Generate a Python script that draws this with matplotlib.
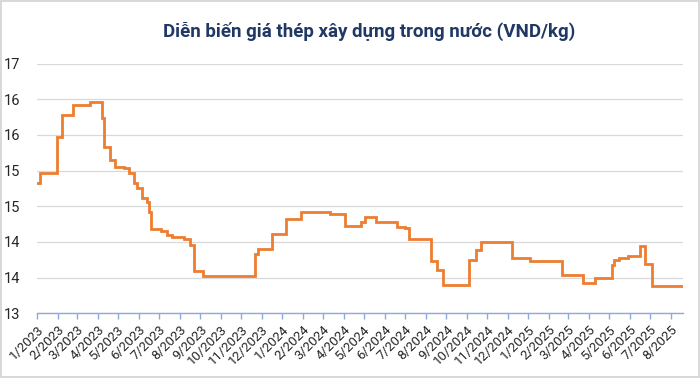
import matplotlib
matplotlib.use("Agg")
import matplotlib.pyplot as plt
import numpy as np
from datetime import date

title = "Diễn biến giá thép xây dựng trong nước (VND/kg)"

change_dates = [
    "2023-01-01", "2023-01-06", "2023-01-30", "2023-02-07", "2023-02-23", "2023-03-21",
    "2023-04-07", "2023-04-11", "2023-04-19", "2023-04-27", "2023-05-11", "2023-05-18",
    "2023-05-25", "2023-05-29", "2023-06-06", "2023-06-13", "2023-06-16", "2023-06-20",
    "2023-07-04", "2023-07-13", "2023-07-21", "2023-08-08", "2023-08-17", "2023-08-23",
    "2023-09-05", "2023-11-21", "2023-11-26", "2023-12-16", "2024-01-06", "2024-01-28",
    "2024-03-12", "2024-04-03", "2024-04-27", "2024-05-03", "2024-05-20", "2024-06-19",
    "2024-07-01", "2024-07-07", "2024-08-09", "2024-08-18", "2024-08-27", "2024-10-04",
    "2024-10-15", "2024-10-23", "2024-12-07", "2025-01-03", "2025-02-20", "2025-03-23",
    "2025-04-10", "2025-05-06", "2025-05-09", "2025-05-16", "2025-05-29", "2025-06-16",
    "2025-06-24", "2025-07-04", "2025-08-19",
]
prices = [
    15.08, 15.25, 15.83, 16.18, 16.33, 16.39,
    16.13, 15.67, 15.45, 15.35, 15.32, 15.24,
    15.09, 15.01, 14.85, 14.79, 14.63, 14.35,
    14.32, 14.26, 14.22, 14.19, 14.10, 13.68,
    13.60, 13.95, 14.03, 14.27, 14.51, 14.63,
    14.59, 14.40, 14.47, 14.54, 14.46, 14.39,
    14.36, 14.19, 13.84, 13.70, 13.45, 13.86,
    14.01, 14.14, 13.89, 13.84, 13.62, 13.49,
    13.57, 13.77, 13.85, 13.88, 13.92, 14.08,
    13.79, 13.44, 13.44,
]

month_ticks = [
    "2023-01-01", "2023-02-01", "2023-03-01", "2023-04-01", "2023-05-01", "2023-06-01",
    "2023-07-01", "2023-08-01", "2023-09-01", "2023-10-01", "2023-11-01", "2023-12-01",
    "2024-01-01", "2024-02-01", "2024-03-01", "2024-04-01", "2024-05-01", "2024-06-01",
    "2024-07-01", "2024-08-01", "2024-09-01", "2024-10-01", "2024-11-01", "2024-12-01",
    "2025-01-01", "2025-02-01", "2025-03-01", "2025-04-01", "2025-05-01", "2025-06-01",
    "2025-07-01", "2025-08-01",
]
month_labels = [
    "1/2023", "2/2023", "3/2023", "4/2023", "5/2023", "6/2023", "7/2023", "8/2023",
    "9/2023", "10/2023", "11/2023", "12/2023", "1/2024", "2/2024", "3/2024", "4/2024",
    "5/2024", "6/2024", "7/2024", "8/2024", "9/2024", "10/2024", "11/2024", "12/2024",
    "1/2025", "2/2025", "3/2025", "4/2025", "5/2025", "6/2025", "7/2025", "8/2025",
]

y_min, y_max = 13, 17
y_tick_values = [13 + k * 4 / 7 for k in range(8)]
y_tick_labels = ["13", "14", "14", "15", "15", "16", "16", "17"]

plt.rcParams['font.family'] = ['Roboto', 'DejaVu Sans']

fig = plt.figure(figsize=(7.0, 3.78), dpi=100)
fig.patch.set_facecolor("white")
fig.patch.set_edgecolor("#D9D9D9")
fig.patch.set_linewidth(1.5)

ax = fig.add_axes([0.0529, 0.171, 0.9228, 0.661])

xd = [date.fromisoformat(d) for d in change_dates]
ax.plot(xd, prices, drawstyle="steps-post", color="#ED7D31", linewidth=2.0, solid_joinstyle="miter")

ax.set_ylim(y_min, y_max)
ax.set_xlim(date(2023, 1, 1), date(2025, 8, 19))
ax.set_yticks(y_tick_values)
ax.set_yticklabels(y_tick_labels)
ax.set_xticks([date.fromisoformat(d) for d in month_ticks])
ax.set_xticklabels(month_labels, rotation=45, ha="right", rotation_mode="anchor")

ax.grid(axis="y", color="#D9D9D9", linewidth=0.9)
ax.set_axisbelow(True)
for s in ["left", "right", "top"]:
    ax.spines[s].set_visible(False)
ax.spines["bottom"].set_color("#8EA9DB")
ax.spines["bottom"].set_linewidth(1.0)

ax.tick_params(axis="y", length=0, pad=12, labelsize=10.5, labelcolor="#262626")
ax.tick_params(axis="x", length=4, color="#8EA9DB", width=1.0, pad=3, labelsize=9.5, labelcolor="#262626")

fig.text(0.527, 0.918, title, ha="center", va="center", fontsize=13.5, fontweight="bold", color="#1F3864")

fig.savefig("out.png", dpi=100, facecolor=fig.get_facecolor(), edgecolor=fig.get_edgecolor())
